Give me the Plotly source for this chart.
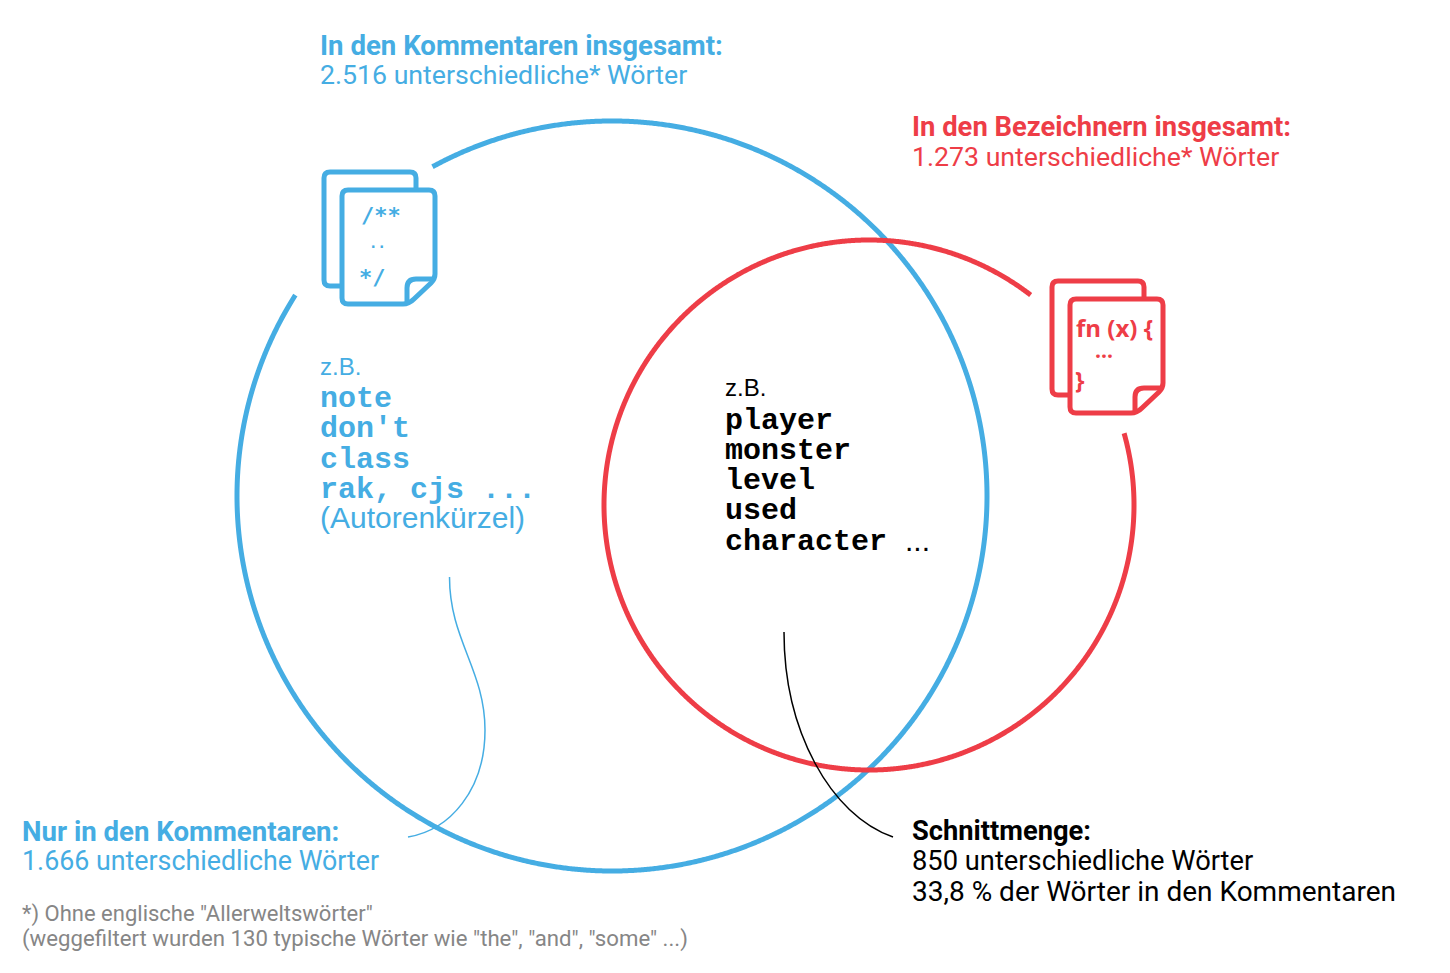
# -*- coding: utf-8 -*-
#%%Import Needed Packages
import numpy as np
import plotly.graph_objects as go

#%%Data
BLUE = '#45ADE3'
RED = '#EE3D47'
GREY = '#868686'
BLACK = '#000000'

head_font = 'Roboto'
arial = 'Liberation Sans'
mono = 'Liberation Mono'

comment_total = ['In den Kommentaren insgesamt:', '2.516 unterschiedliche* Wörter']
ident_total = ['In den Bezeichnern insgesamt:', '1.273 unterschiedliche* Wörter']
comment_only = ['Nur in den Kommentaren:', '1.666 unterschiedliche Wörter']
overlap = ['Schnittmenge:', '850 unterschiedliche Wörter', '33,8 % der Wörter in den Kommentaren']
footnote = ['*) Ohne englische "Allerweltswörter"',
            '(weggefiltert wurden 130 typische Wörter wie "the", "and", "some" ...)']
comment_words = ['note', "don't", 'class', 'rak, cjs ...']
overlap_words = ['player', 'monster', 'level', 'used', 'character']

#%%Circles, each with a gap where the icon sits
def arc(cx, cy, r, start, stop, color):
    t = np.radians(np.linspace(start, stop, 1500))
    return go.Scatter(x=cx + r*np.cos(t), y=cy + r*np.sin(t), mode='lines',
                      line=dict(color=color, width=5, simplify=False), hoverinfo='skip')

fig = go.Figure(data=[arc(612, 496, 375, -118.6, 212.4, BLUE),
                      arc(869, 505, 265, -15.7, 307.6, RED)])

#%%Text helper
annotations = []
def label(x, y, text, color, size, family, bold=False):
    if bold:
        text = '<b>' + text + '</b>'
    annotations.append(dict(x=x, y=y, text=text, showarrow=False, xanchor='left', yanchor='middle',
                            borderpad=0, font=dict(color=color, size=size, family=family)))

label(319, 45, comment_total[0], BLUE, 27.6, head_font, True)
label(319, 75, comment_total[1], BLUE, 26.7, head_font)
label(911, 127, ident_total[0], RED, 27.4, head_font, True)
label(911, 157, ident_total[1], RED, 26.7, head_font)
label(21, 831, comment_only[0], BLUE, 27.6, head_font, True)
label(21, 861, comment_only[1], BLUE, 26.8, head_font)
label(911, 831, overlap[0], BLACK, 27.3, head_font, True)
label(911, 861, overlap[1], BLACK, 27.3, head_font)
label(911, 891, overlap[2], BLACK, 28, head_font)
label(21, 914, footnote[0], GREY, 22, head_font)
label(21, 938, footnote[1], GREY, 22.2, head_font)

label(319, 366, 'z.B.', BLUE, 24, arial)
for word, y in zip(comment_words, [399, 429, 460, 490]):
    label(319, y, word, BLUE, 30, mono, True)
label(319, 517, '(Autorenkürzel)', BLUE, 30, arial)

label(724, 387, 'z.B.', BLACK, 24, arial)
for word, y in zip(overlap_words, [421, 451, 481, 511, 542]):
    label(724, y, word, BLACK, 30, mono, True)
label(904, 540, '...', BLACK, 30, arial)

label(360, 215, '/**', BLUE, 22, 'DejaVu Sans Mono', True)
label(368, 243, '..', BLUE, 14, 'DejaVu Sans Mono', True)
label(358, 277, '*/', BLUE, 22, 'DejaVu Sans Mono', True)
label(1075, 327, 'fn\u00a0(x)\u00a0{', RED, 24, 'Open Sans', True)
label(1094, 350, '...', RED, 21, 'Open Sans', True)
label(1074, 379, '}', RED, 24, 'Open Sans', True)

#%%Icons
def icon_shapes(dx, dy, color):
    back = 'M{} {} L{} {} Q{} {} {} {} L{} {} Q{} {} {} {} L{} {} Q{} {} {} {} L{} {}'.format(
        342+dx, 286+dy, 330+dx, 286+dy, 324+dx, 286+dy, 324+dx, 280+dy, 324+dx, 178+dy, 324+dx, 172+dy,
        330+dx, 172+dy, 410+dx, 172+dy, 416+dx, 172+dy, 416+dx, 178+dy, 416+dx, 190+dy)
    front = 'M{} {} L{} {} Q{} {} {} {} L{} {} Q{} {} {} {} L{} {} Q{} {} {} {} L{} {} Q{} {} {} {} L{} {} Q{} {} {} {} Z'.format(
        348+dx, 190+dy, 429+dx, 190+dy, 435+dx, 190+dy, 435+dx, 196+dy, 435+dx, 274+dy, 435+dx, 279+dy,
        431+dx, 283+dy, 414+dx, 299+dy, 409+dx, 304+dy, 403+dx, 304+dy, 348+dx, 304+dy, 342+dx, 304+dy,
        342+dx, 298+dy, 342+dx, 196+dy, 342+dx, 190+dy, 348+dx, 190+dy)
    fold = 'M{} {} L{} {} Q{} {} {} {} L{} {}'.format(
        407+dx, 304+dy, 407+dx, 288+dy, 407+dx, 279+dy, 416+dx, 279+dy, 435+dx, 279+dy)
    return [dict(type='path', path=s, line=dict(color=color, width=5), layer='above')
            for s in (back, front, fold)]

shapes = icon_shapes(0, 0, BLUE) + icon_shapes(728, 109, RED)
#%%Thin connector lines
shapes.append(dict(type='path', path='M449.5 577 C449.5 640 485 670 485 730 C485 790 450 830 408 837',
                   line=dict(color=BLUE, width=1.5)))
shapes.append(dict(type='path', path='M784 632 C784 730 830 815 893 837',
                   line=dict(color=BLACK, width=1.5)))

#%%Layout
fig.update_layout(width=1450, height=973, margin=dict(l=0, r=0, t=0, b=0), showlegend=False,
                  paper_bgcolor='white', plot_bgcolor='white', shapes=shapes, annotations=annotations,
                  xaxis=dict(range=[0, 1450], visible=False),
                  yaxis=dict(range=[973, 0], visible=False))
fig.write_html("out.html", config=dict(displayModeBar=False),
               post_script="document.body.style.margin='0';")
